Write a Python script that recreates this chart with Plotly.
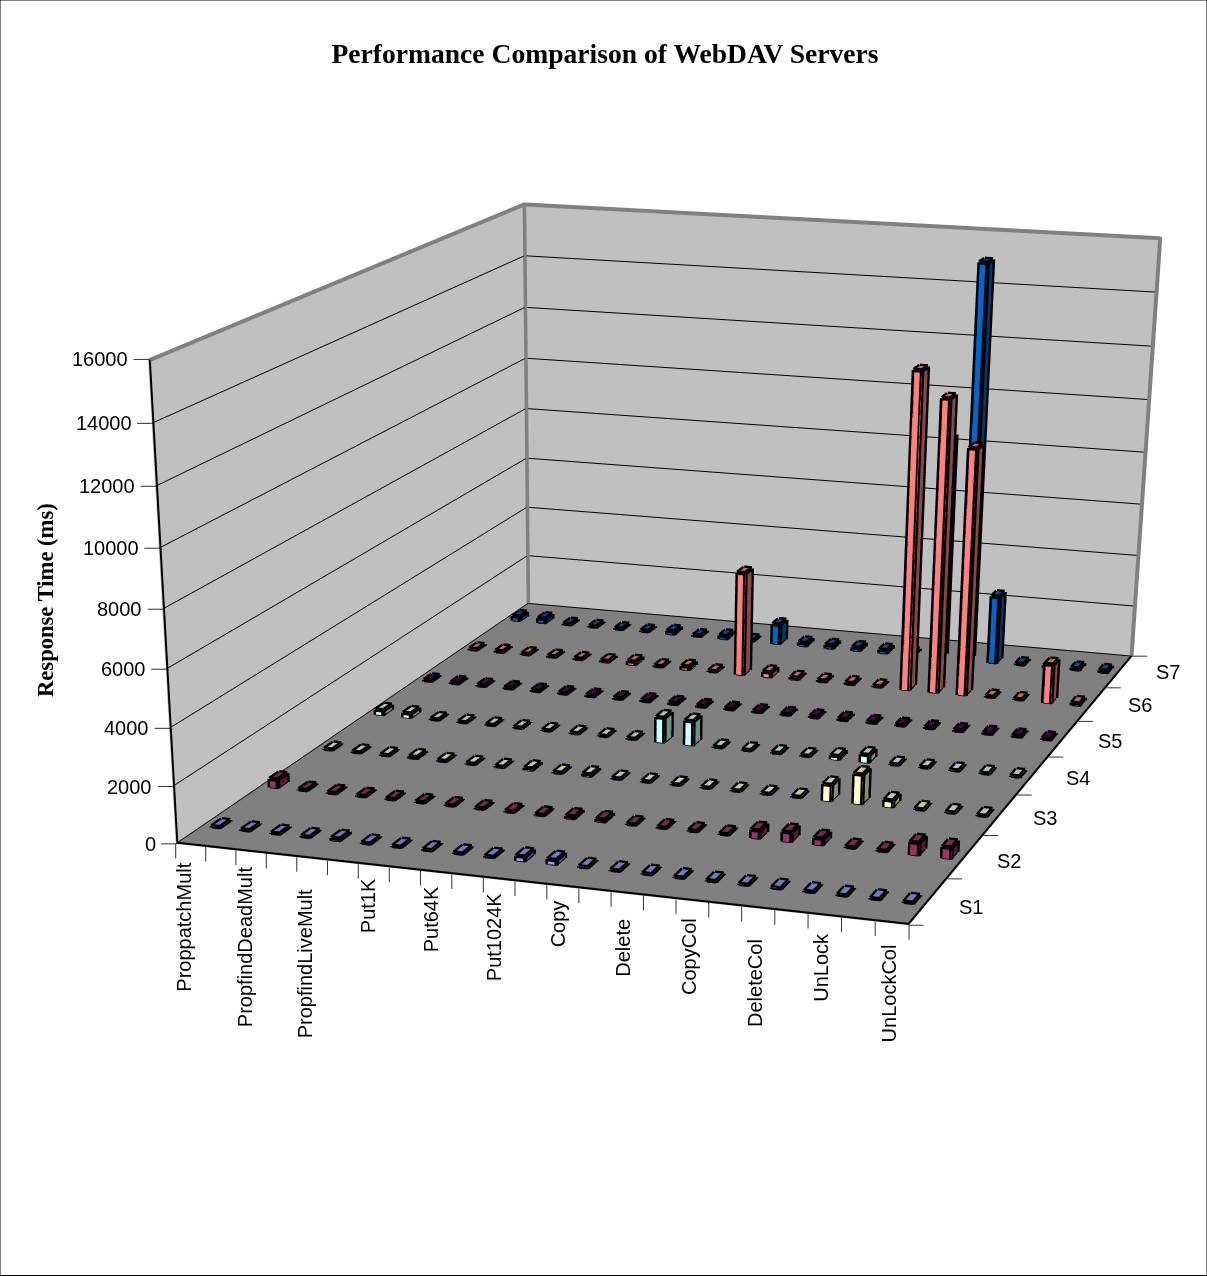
import math
import numpy as np
import plotly.graph_objects as go

CATEGORIES = ["ProppatchMult","","PropfindDeadMult","","PropfindLiveMult","","Put1K","","Put64K","","Put1024K","",
              "Copy","","Delete","","CopyCol","","DeleteCol","","UnLock","","UnLockCol"]
LABEL_DROP = [15,0,12,0,28,0,10,0,12,0,10,0,12,0,23,0,15,0,28,0,15,0,19]
SERIES = ["S1","S2","S3","S4","S5","S6","S7"]
Z_TICKS = [0,2000,4000,6000,8000,10000,12000,14000,16000]
S1 = [50,50,50,50,100,50,50,50,50,50,180,180,50,50,50,50,50,50,50,50,50,50,50]
S2 = [320,50,50,50,50,50,50,50,50,50,100,110,50,50,50,50,300,350,250,50,50,450,400]
S3 = [50,50,50,90,50,50,50,100,50,100,50,50,50,50,50,50,50,600,1080,260,50,50,50]
S4 = [200,180,50,50,50,50,50,50,50,50,950,920,50,50,50,50,150,300,50,50,50,50,50]
S5 = [70,70,70,70,70,70,70,70,90,90,70,70,70,70,80,90,70,70,70,70,70,70,70]
S6 = [70,80,70,70,70,80,150,70,150,60,4000,220,100,90,90,60,12050,11100,9350,60,60,1500,110]
S7 = [200,200,70,70,70,70,150,70,150,60,800,150,150,150,150,100,8600,15200,2650,80,100,100,100]
VALUES = [S1,S2,S3,S4,S5,S6,S7]
COLORS = [(0x99,0x99,0xFF),(0x99,0x33,0x66),(0xFF,0xFF,0xCC),(0xCC,0xFF,0xFF),(0x66,0x00,0x66),(0xFF,0x80,0x80),(0x00,0x66,0xCC)]

PAGE_W, PAGE_H = 1207, 1276
FIG_H = 3000
HALF_X, HALF_Y = 0.14, 0.085
SANS, SERIF = "Liberation Sans", "Liberation Serif"
XMIN, XMAX = -0.5, len(CATEGORIES)-0.5
YMIN, YMAX = -0.5, len(SERIES)-0.5
ZMAX = Z_TICKS[-1]

# camera calibration: where the box corners should land on the page
BOX_TARGETS = [(0,0,0,183,830),(1,0,0,921,936),(1,1,0,1152,663),(0,1,0,546,606),(0,0,1,166,353),(0,1,1,543,200),(1,1,1,1170,247)]
def project(p, X):
    eye, d0, roll, a = p[:3], p[3:6], p[6], p[7:10]
    w = (np.array(X)-.5)*a
    f = d0/np.linalg.norm(d0)
    r = np.cross(f, np.array([roll,0.0,1.0])); r = r/np.linalg.norm(r)
    u = np.cross(r, f)
    d = w-eye
    F = (FIG_H/2)/math.tan(math.pi/8)
    z = d@f
    return np.array([PAGE_W/2+F*(d@r)/z, FIG_H/2-F*(d@u)/z])
def residual(p):
    return np.concatenate([project(p,t[:3])-np.array(t[3:5]) for t in BOX_TARGETS])
def calibrate(p0):
    p = np.array(p0,float); lam = 1e-2; r = residual(p); c = r@r
    for _ in range(500):
        J = np.zeros((len(r),len(p)))
        for i in range(len(p)):
            q = p.copy(); q[i] += 1e-6
            J[:,i] = (residual(q)-r)/1e-6
        q = p+np.linalg.solve(J.T@J+lam*np.eye(len(p)),-J.T@r)
        rq = residual(q); cq = rq@rq
        if np.isfinite(cq) and cq < c:
            p, r, c = q, rq, cq; lam = max(lam*.5,1e-8)
        else:
            lam *= 3
    return p
P = calibrate([2.204056,-7.111175,1.687195,-0.280275,0.838175,-0.467876,-0.010086,1.452018,2.0,0.901668])
s = 2.0/P[8]
EYE = P[:3]*s; LOOK = P[3:6]/np.linalg.norm(P[3:6]); ASPECT = P[7:10]*s
CENTER = EYE+LOOK

def shade(c, k):
    return "rgb(%d,%d,%d)" % tuple(round(v*k) for v in c)

fig = go.Figure()
for s_i, (vals, col) in enumerate(zip(VALUES, COLORS)):
    xs, ys, zs, I, J, K, fc = [], [], [], [], [], [], []
    lx, ly, lz = [], [], []
    for c, v in enumerate(vals):
        n = len(xs)
        x0, x1, y0, y1 = c-HALF_X, c+HALF_X, s_i-HALF_Y, s_i+HALF_Y
        xs += [x0,x1,x1,x0,x0,x1,x1,x0]
        ys += [y0,y0,y1,y1,y0,y0,y1,y1]
        zs += [0,0,0,0,v,v,v,v]
        for (a,b,d,col_k) in [(0,1,5,1.0),(0,5,4,1.0),(1,2,6,0.55),(1,6,5,0.55),(4,5,6,0.78),(4,6,7,0.78)]:
            I.append(n+a); J.append(n+b); K.append(n+d); fc.append(shade(col,col_k))
        for a,b in [(0,1),(1,2),(0,4),(1,5),(2,6),(4,5),(5,6),(6,7),(7,4)]:
            lx += [xs[n+a],xs[n+b],None]; ly += [ys[n+a],ys[n+b],None]; lz += [zs[n+a],zs[n+b],None]
    fig.add_trace(go.Mesh3d(x=xs,y=ys,z=zs,i=I,j=J,k=K,facecolor=fc,flatshading=True,name=SERIES[s_i],
        lighting=dict(ambient=1,diffuse=0,specular=0,roughness=1,fresnel=0),hoverinfo="skip",showscale=False))
    fig.add_trace(go.Scatter3d(x=lx,y=ly,z=lz,mode="lines",line=dict(color="black",width=9),hoverinfo="skip",showlegend=False))

def seg(p, color, width):
    fig.add_trace(go.Scatter3d(x=[a[0] for a in p],y=[a[1] for a in p],z=[a[2] for a in p],mode="lines",
        line=dict(color=color,width=width),hoverinfo="skip",showlegend=False))
# frame lines sit a hair inside the box so the walls and the clip planes do not eat them
IX, IY, IZ = 0.03, 0.012, 25
seg([(XMIN+IX,YMIN+IY,ZMAX-IZ),(XMIN+IX,YMAX-IY,ZMAX-IZ),(XMAX-IX,YMAX-IY,ZMAX-IZ),(XMAX-IX,YMAX-IY,IZ)],"#808080",8)
seg([(XMIN+IX,YMAX-IY,ZMAX-IZ),(XMIN+IX,YMAX-IY,IZ)],"#808080",8)
seg([(XMIN+IX,YMIN+IY,ZMAX-IZ),(XMIN+IX,YMIN+IY,IZ),(XMAX-IX,YMIN+IY,IZ),(XMAX-IX,YMAX-IY,IZ)],"black",4)

ann = []
TICK = dict(text="",showarrow=True,arrowhead=0,arrowwidth=1,arrowcolor="#333333")
for b in range(len(CATEGORIES)+1):
    ann.append(dict(x=XMIN+b,y=YMIN,z=0,ax=0,ay=16,**TICK))
for b in range(len(SERIES)+1):
    ann.append(dict(x=XMAX,y=YMIN+b,z=0,ax=16,ay=0,**TICK))
for v in Z_TICKS:
    ann.append(dict(x=XMIN,y=YMIN,z=v,ax=-16,ay=0,**TICK))
    ann.append(dict(x=XMIN,y=YMIN,z=v,text=str(v),showarrow=False,xanchor="right",xshift=-18,
                    font=dict(family=SANS,size=20,color="black")))
for i, lab in enumerate(CATEGORIES):
    if lab:
        ann.append(dict(x=i,y=YMIN,z=0,text=lab,showarrow=False,textangle=-90,xanchor="center",yanchor="top",
                        yshift=-LABEL_DROP[i],xshift=-7+0.18*i,font=dict(family=SANS,size=20,color="black")))
for i, lab in enumerate(SERIES):
    ann.append(dict(x=XMAX,y=i,z=0,text=lab,showarrow=False,xanchor="center",xshift=42+i,yshift=-5+0.8*i,
                    font=dict(family=SANS,size=20,color="black")))

AXIS_OFF = dict(showgrid=False,zeroline=False,showline=False,ticks="",showticklabels=False,title="",
                showbackground=True,backgroundcolor="#c0c0c0",showspikes=False)
fig.update_layout(
    width=PAGE_W,height=FIG_H,margin=dict(l=0,r=0,t=0,b=0,pad=0),paper_bgcolor="white",showlegend=False,
    title=dict(text="<b>Performance Comparison of WebDAV Servers</b>",x=605/PAGE_W,xanchor="center",y=1-53/FIG_H,yanchor="middle",
               font=dict(family=SERIF,size=27.6,color="black")),
    annotations=[dict(text="<b>Response Time (ms)</b>",xref="paper",yref="paper",x=46/PAGE_W,y=1-600/FIG_H,xanchor="center",yanchor="middle",
                      showarrow=False,textangle=-90,font=dict(family=SERIF,size=22.6,color="black"))],
    shapes=[dict(type="rect",xref="paper",yref="paper",x0=0,x1=1,y0=1-(PAGE_H-0.5)/FIG_H,y1=1,line=dict(color="black",width=1))],
    scene=dict(
        domain=dict(x=[0,1],y=[0,1]),
        aspectmode="manual",aspectratio=dict(x=float(ASPECT[0]),y=float(ASPECT[1]),z=float(ASPECT[2])),
        camera=dict(eye=dict(x=float(EYE[0]),y=float(EYE[1]),z=float(EYE[2])),
                    center=dict(x=float(CENTER[0]),y=float(CENTER[1]),z=float(CENTER[2])),
                    up=dict(x=float(P[6]),y=0,z=1),projection=dict(type="perspective")),
        xaxis=dict(range=[XMIN,XMAX],**AXIS_OFF),
        yaxis=dict(range=[YMIN,YMAX],**AXIS_OFF),
        zaxis=dict(range=[0,ZMAX],tickvals=Z_TICKS,showgrid=True,gridcolor="black",gridwidth=2,zeroline=False,showline=False,ticks="",
                   showticklabels=False,title="",showbackground=True,backgroundcolor="#808080",showspikes=False),
        annotations=ann,
    ),
)
fig.write_html("out.html",config=dict(displayModeBar=False),
    post_script="document.body.style.margin='0';document.documentElement.style.overflow='hidden';document.body.style.overflow='hidden';")
